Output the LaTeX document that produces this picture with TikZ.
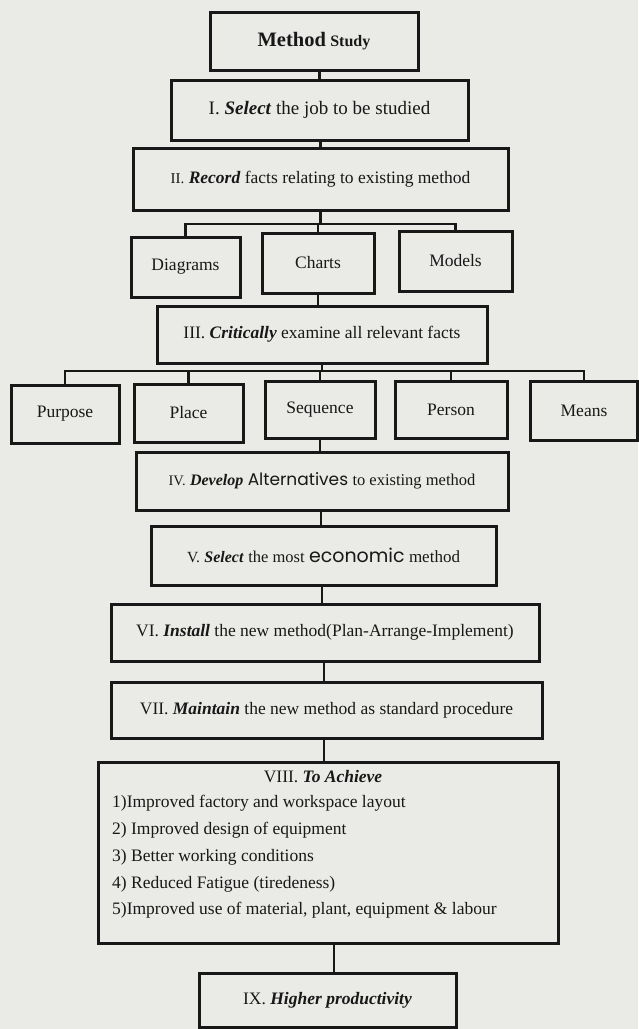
\documentclass[tikz,border=0pt]{standalone}
\usepackage{fontspec}
\setmainfont{Liberation Serif}
\newfontfamily\geo{Poppins}
\definecolor{bgc}{RGB}{234,235,231}
\definecolor{ink}{RGB}{24,24,24}
\newcommand\kw[1]{\textbf{\textit{#1}}}
\newcommand\fs[1]{\fontsize{#1}{#1}\selectfont}
\begin{document}
\begin{tikzpicture}[x=1pt,y=-1pt]
\tikzset{
  box/.style={draw=ink, line width=3pt, fill=bgc, inner sep=0pt, align=center,
    font=\fs{17.5}, text=ink},
  conn/.style={draw=ink, line width=2.8pt},
  txt/.style={inner sep=0pt, text=ink, font=\fs{17.5}}
}
\fill[bgc] (0,0) rectangle (638,1029);
\useasboundingbox (0,0) rectangle (638,1029);

\node[box, minimum width=208pt, minimum height=58pt] (ms) at (314,41)
  {{\bfseries\fs{20.5}Method} {\bfseries\fs{16}Study}};
\node[box, minimum width=297pt, minimum height=60pt, font=\fs{19}] (s1) at (319.5,110)
  {I. \kw{Select} the job to be studied};
\node[box, minimum width=375pt, minimum height=62pt] (s2) at (320.5,179)
  {{\fs{15}II.} \kw{Record} facts relating to existing method};

\node[box, minimum width=109pt, minimum height=60pt] (dia) at (185.5,267) {Diagrams};
\node[box, minimum width=112pt, minimum height=60pt] (cha) at (318,263) {Charts};
\node[box, minimum width=113pt, minimum height=60pt] (mod) at (455.5,261) {Models};

\node[box, minimum width=330pt, minimum height=57pt] (s3) at (322,334.5)
  {III. \kw{Critically} examine all relevant facts};

\node[box, minimum width=108pt, minimum height=58pt] (pur) at (65,414) {Purpose};
\node[box, minimum width=109pt, minimum height=58pt] (pla) at (188.5,413) {Place};
\node[box, minimum width=110pt, minimum height=57pt] (seq) at (320,409.5) {Sequence};
\node[box, minimum width=112pt, minimum height=57pt] (per) at (451,409.5) {Person};
\node[box, minimum width=107pt, minimum height=59pt] (mea) at (584,410.5) {Means};

\node[box, minimum width=372pt, minimum height=58pt] (s4) at (322,481)
  {{\fs{14.5}IV.} {\fs{16}\kw{Develop}} {\geo\fs{17}Alternatives} {\fs{16.5}to existing method}};
\node[box, minimum width=345pt, minimum height=59pt] (s5) at (323.5,555.5)
  {{\fs{15.5}V.} {\fs{16}\kw{Select}} {\fs{16.5}the most} {\geo\fs{19}economic} {\fs{17}method}};
\node[box, minimum width=428pt, minimum height=57pt] (s6) at (325,632.5)
  {VI. \kw{Install} the new method(Plan-Arrange-Implement)};
\node[box, minimum width=431pt, minimum height=56pt] (s7) at (326.5,710)
  {VII. \kw{Maintain} the new method as standard procedure};
\node[box, minimum width=460pt, minimum height=181pt] (s8) at (328,852.5) {};
\node[txt] (t8) at (323,777) {VIII. \kw{To Achieve}};
\node[txt, align=left, anchor=west, font=\fontsize{17.5}{26.75}\selectfont] (l8) at (112,857)
  {1)Improved factory and workspace layout\\
   2) Improved design of equipment\\
   3) Better working conditions\\
   4) Reduced Fatigue (tiredeness)\\
   5)Improved use of material, plant, equipment \& labour};
\node[box, minimum width=257pt, minimum height=54pt] (s9) at (327.5,1000)
  {IX. \kw{Higher productivity}};

% connectors
\draw[conn] (s1.north) -- (s1.north |- ms.south);
\draw[conn] (s2.north) -- (s2.north |- s1.south);
\coordinate (b1) at (320,224);
\draw[conn] (s2.south) -- (s2.south |- b1);
\draw[conn] (dia.north) |- (b1) -| (mod.north);
\draw[conn] (cha.north) -- (cha.north |- b1);
\draw[conn] (cha.south) -- (cha.south |- s3.north);
\coordinate (b2) at (322,371);
\draw[conn] (s3.south) -- (s3.south |- b2);
\draw[conn] (pur.north) |- (b2) -| (mea.north);
\draw[conn] (pla.north) -- (pla.north |- b2);
\draw[conn] (seq.north) -- (seq.north |- b2);
\draw[conn] (per.north) -- (per.north |- b2);
\draw[conn] (seq.south) -- (seq.south |- s4.north);
\draw[conn] ([xshift=-1pt]s4.south) -- ([xshift=-1pt]s4.south |- s5.north);
\draw[conn] ([xshift=-1.5pt]s5.south) -- ([xshift=-1.5pt]s5.south |- s6.north);
\draw[conn] ([xshift=-1pt]s6.south) -- ([xshift=-1pt]s6.south |- s7.north);
\draw[conn] ([xshift=-2.5pt]s7.south) -- ([xshift=-2.5pt]s7.south |- s8.north);
\draw[conn] ([xshift=6pt]s8.south) -- ([xshift=6pt]s8.south |- s9.north);
\end{tikzpicture}
\end{document}
